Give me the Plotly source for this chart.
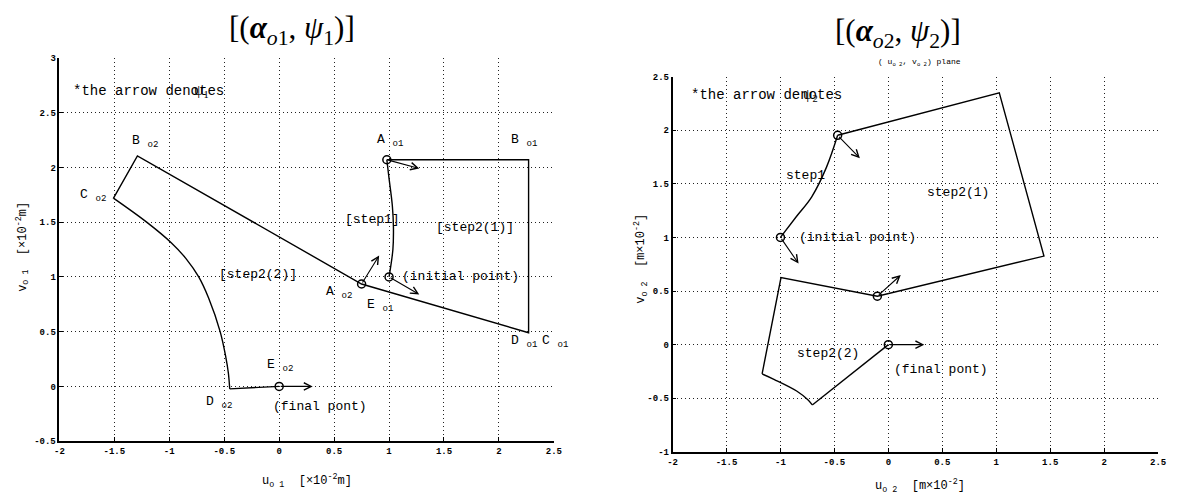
import plotly.graph_objects as go

# ---------------- Left panel: (alpha_o1, psi_1) ----------------
L_step1_u = [1.00, 1.035, 1.04, 1.03, 1.00, 0.98]
L_step1_v = [1.00, 1.25, 1.45, 1.65, 1.90, 2.07]
L_edge_u = [0.98, 2.27, 2.27, 0.75, -1.29, -1.51]
L_edge_v = [2.07, 2.07, 0.49, 0.935, 2.105, 1.715]
L_arc_u = [-1.505, -1.206, -0.98, -0.846, -0.732, -0.642, -0.537, -0.486, -0.462, -0.45]
L_arc_v = [1.717, 1.50, 1.31, 1.165, 1.00, 0.807, 0.50, 0.27, 0.12, -0.023]
L_end_u = [-0.45, 0.0]
L_end_v = [-0.023, 0.0]
L_circle_u = [0.98, 1.0, 0.75, 0.0]
L_circle_v = [2.07, 1.0, 0.935, 0.0]
L_tip_u = [1.275, 1.275, 0.91, 0.305]
L_tip_v = [1.99, 0.84, 1.195, 0.0]
L_labels = [
    ("A <sub>o1</sub>", 0.87, 2.25, 13),
    ("B <sub>o1</sub>", 2.09, 2.25, 13),
    ("B <sub>o2</sub>", -1.36, 2.24, 13),
    ("C <sub>o2</sub>", -1.83, 1.74, 13),
    ("[step1]", 0.58, 1.52, 13),
    ("[step2(1)]", 1.41, 1.45, 13),
    ("[step2(2)]", -0.57, 1.02, 13),
    ("(initial point)", 1.10, 1.005, 13),
    ("A <sub>o2</sub>", 0.41, 0.86, 13),
    ("E <sub>o1</sub>", 0.785, 0.74, 13),
    ("D <sub>o1</sub>", 2.096, 0.41, 13),
    ("C <sub>o1</sub>", 2.37, 0.41, 13),
    ("E <sub>o2</sub>", -0.13, 0.19, 13),
    ("D <sub>o2</sub>", -0.687, -0.15, 13),
    ("(final pont)", -0.076, -0.18, 13),
    ("*the arrow denotes", -1.89, 2.70, 14),
]
L_psi = ("ψ<sub>1</sub>", -0.79, 2.70)

# ---------------- Right panel: (alpha_o2, psi_2) ----------------
R_step1_u = [-1.00, -0.85, -0.71, -0.574, -0.47]
R_step1_v = [1.00, 1.197, 1.379, 1.653, 1.952]
R_edge_u = [-0.47, 1.028, 1.442, -0.102, -0.995, -1.17]
R_edge_v = [1.952, 2.348, 0.826, 0.452, 0.625, -0.273]
R_arc_u = [-1.17, -1.056, -0.85, -0.746, -0.705]
R_arc_v = [-0.273, -0.325, -0.432, -0.514, -0.562]
R_end_u = [-0.705, 0.0]
R_end_v = [-0.562, 0.0]
R_circle_u = [-0.47, -1.0, -0.102, 0.0]
R_circle_v = [1.952, 1.0, 0.452, 0.0]
R_tip_u = [-0.264, -0.832, 0.115, 0.333]
R_tip_v = [1.739, 0.756, 0.649, 0.0]
R_labels = [
    ("step1", -0.97, 1.578, 13),
    ("step2(1)", 0.339, 1.416, 13),
    ("(initial point)", -0.85, 1.0, 13),
    ("step2(2)", -0.867, -0.082, 13),
    ("(final pont)", 0.03, -0.228, 13),
    ("*the arrow denotes", -1.85, 2.33, 14),
]
R_psi = ("ψ<sub>2</sub>", -0.81, 2.33)

x_ticks = [-2, -1.5, -1, -0.5, 0, 0.5, 1, 1.5, 2, 2.5]
x_ticktext = ["-2", "-1.5", "-1", "-0.5", "0", "0.5", "1", "1.5", "2", "2.5"]
L_y_ticks = [-0.5, 0, 0.5, 1, 1.5, 2, 2.5, 3]
L_y_ticktext = ["-0.5", "0", "0.5", "1", "1.5", "2", "2.5", "3"]
R_y_ticks = [-1, -0.5, 0, 0.5, 1, 1.5, 2, 2.5]
R_y_ticktext = ["-1", "-0.5", "0", "0.5", "1", "1.5", "2", "2.5"]

W, H = 1177, 503
MONO = "Liberation Mono"
LW = 1.4

fig = go.Figure()


def add_panel(xa, ya, step_u, step_v, edge_u, edge_v, arc_u, arc_v, end_u, end_v,
              circ_u, circ_v, tip_u, tip_v, labels, psi):
    line = dict(color="black", width=LW)
    fig.add_trace(go.Scatter(x=step_u, y=step_v, mode="lines", line=dict(shape="spline", **line),
                             xaxis=xa, yaxis=ya, hoverinfo="skip"))
    fig.add_trace(go.Scatter(x=edge_u, y=edge_v, mode="lines", line=line,
                             xaxis=xa, yaxis=ya, hoverinfo="skip"))
    fig.add_trace(go.Scatter(x=arc_u, y=arc_v, mode="lines",
                             line=dict(shape="spline", smoothing=1, **line),
                             xaxis=xa, yaxis=ya, hoverinfo="skip"))
    fig.add_trace(go.Scatter(x=end_u, y=end_v, mode="lines", line=line,
                             xaxis=xa, yaxis=ya, hoverinfo="skip"))
    fig.add_trace(go.Scatter(x=circ_u, y=circ_v, mode="markers",
                             marker=dict(symbol="circle-open", size=8, color="black", line=dict(width=1.5)),
                             xaxis=xa, yaxis=ya, hoverinfo="skip"))
    for tu, tv, cu, cv in zip(tip_u, tip_v, circ_u, circ_v):
        fig.add_annotation(x=tu, y=tv, ax=cu, ay=cv, xref=xa, yref=ya, axref=xa, ayref=ya,
                           showarrow=True, arrowhead=5, arrowsize=1.3, arrowwidth=1.1,
                           arrowcolor="black", standoff=0, startstandoff=0, text="")
    for t, x, y, fs in labels:
        fig.add_annotation(x=x, y=y, xref=xa, yref=ya, text=t, showarrow=False,
                           xanchor="left", yanchor="middle",
                           font=dict(family=MONO, size=fs, color="black"))
    fig.add_annotation(x=psi[1], y=psi[2], xref=xa, yref=ya, text=psi[0], showarrow=False,
                       xanchor="left", yanchor="middle",
                       font=dict(family="Liberation Serif", size=15, color="black"))


add_panel("x", "y", L_step1_u, L_step1_v, L_edge_u, L_edge_v, L_arc_u, L_arc_v, L_end_u, L_end_v,
          L_circle_u, L_circle_v, L_tip_u, L_tip_v, L_labels, L_psi)
add_panel("x2", "y2", R_step1_u, R_step1_v, R_edge_u, R_edge_v, R_arc_u, R_arc_v, R_end_u, R_end_v,
          R_circle_u, R_circle_v, R_tip_u, R_tip_v, R_labels, R_psi)

axis_common = dict(showline=True, linecolor="black", linewidth=1.6, ticks="inside", ticklen=4,
                   tickcolor="black", tickwidth=1.3, showgrid=True, gridcolor="#222222",
                   griddash="1px,3px", gridwidth=1, zeroline=False,
                   tickfont=dict(family=MONO, size=9, color="black", weight="bold"))

fig.update_layout(
    width=W, height=H, margin=dict(l=0, r=0, t=0, b=0),
    paper_bgcolor="white", plot_bgcolor="white", showlegend=False,
    xaxis=dict(domain=[55 / W, 555 / W], range=[-2, 2.5], tickvals=x_ticks, ticktext=x_ticktext,
               anchor="y", **axis_common),
    yaxis=dict(domain=[1 - 446 / H, 1 - 55 / H], range=[-0.5, 3], tickvals=L_y_ticks,
               ticktext=L_y_ticktext, anchor="x", **axis_common),
    xaxis2=dict(domain=[675 / W, 1166 / W], range=[-2, 2.5], tickvals=x_ticks, ticktext=x_ticktext,
                anchor="y2", **axis_common),
    yaxis2=dict(domain=[1 - 457 / H, 1 - 74 / H], range=[-1, 2.5], tickvals=R_y_ticks,
                ticktext=R_y_ticktext, anchor="x2", **axis_common),
)

# titles and axis labels (paper coordinates)
paper_texts = [
    ("[(<b><i>α</i></b><sub><i>o</i>1</sub>, <i>ψ</i><sub>1</sub>)]", 290, 27, 31, "Liberation Serif", 0),
    ("[(<b><i>α</i></b><sub><i>o</i>2</sub>, <i>ψ</i><sub>2</sub>)]", 903, 30, 31, "Liberation Serif", 0),
    ("( u<sub>o 2</sub>, v<sub>o 2</sub>) plane", 925, 60, 8, MONO, 0),
    ("u<sub>o 1</sub>  [×10<sup>-2</sup>m]", 305, 487, 12, MONO, 0),
    ("u<sub>o 2</sub>  [m×10<sup>-2</sup>]", 925, 492, 12, MONO, 0),
    ("v<sub>o 1</sub>  [×10<sup>-2</sup>m]", 18, 248, 12, MONO, -90),
    ("v<sub>o 2</sub>  [m×10<sup>-2</sup>]", 643, 260, 12, MONO, -90),
]
for t, px, py, fs, fam, ang in paper_texts:
    fig.add_annotation(x=px / W, y=1 - py / H, xref="paper", yref="paper", text=t,
                       showarrow=False, xanchor="center", yanchor="middle", textangle=ang,
                       font=dict(family=fam, size=fs, color="black"))

fig.write_html("out.html")
